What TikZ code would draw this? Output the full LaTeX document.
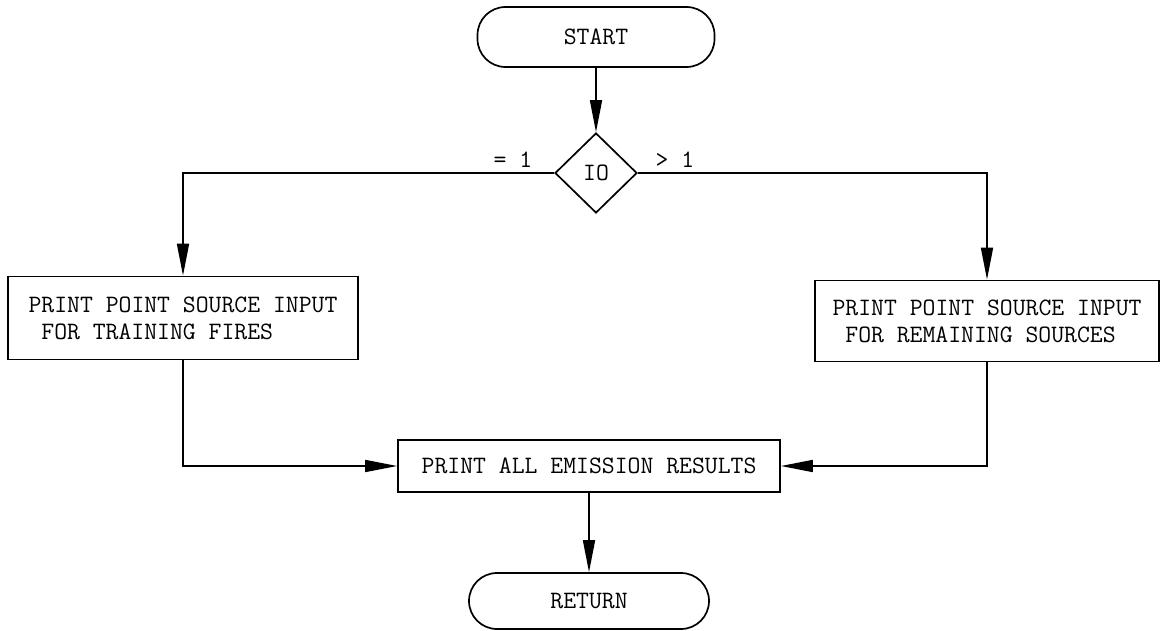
\documentclass[tikz,border=0pt]{standalone}
\usepackage{fontspec}
\usetikzlibrary{shapes.geometric,arrows.meta}
\begin{document}
\begin{tikzpicture}[x=1pt,y=-1pt,
  line width=1.7pt,
  font=\ttfamily\fontsize{25}{27}\selectfont,
  box/.style={draw, rectangle, inner sep=0pt},
  term/.style={draw, rectangle, rounded corners=28pt, inner sep=0pt},
  dec/.style={draw, diamond, minimum width=82pt, minimum height=80pt, inner sep=0pt},
  arr/.style={-{Triangle[length=32pt,width=12pt]}},
  lbl/.style={inner sep=0pt}]
\useasboundingbox (0,0) rectangle (1160,631);
\node[term, minimum width=237pt, minimum height=60pt] (start) at (596,37) {START};
\node[dec] (io) at (596,173) {IO};
\node[box, minimum width=350pt, minimum height=83pt, align=left] (left) at (183,318) {PRINT POINT SOURCE INPUT\\\ FOR TRAINING FIRES};
\node[box, minimum width=344pt, minimum height=81pt, align=left] (right) at (987,321) {PRINT POINT SOURCE INPUT\\\ FOR REMAINING SOURCES};
\node[box, minimum width=382pt, minimum height=52pt] (emit) at (589,466) {PRINT ALL EMISSION RESULTS};
\node[term, minimum width=240pt, minimum height=56pt] (ret) at (589,601) {RETURN};
\node[lbl] (eq) at (513,160) {= 1};
\node[lbl] (gt) at (675,160) {> 1};
\draw[arr] (start.south) -- (io.north);
\draw[arr] (io.west) -| (left.north);
\draw[arr] (io.east) -| (right.north);
\draw[arr] (left.south) |- (emit.west);
\draw[arr] (right.south) |- (emit.east);
\draw[arr] (emit.south) -- (ret.north);
\end{tikzpicture}
\end{document}
